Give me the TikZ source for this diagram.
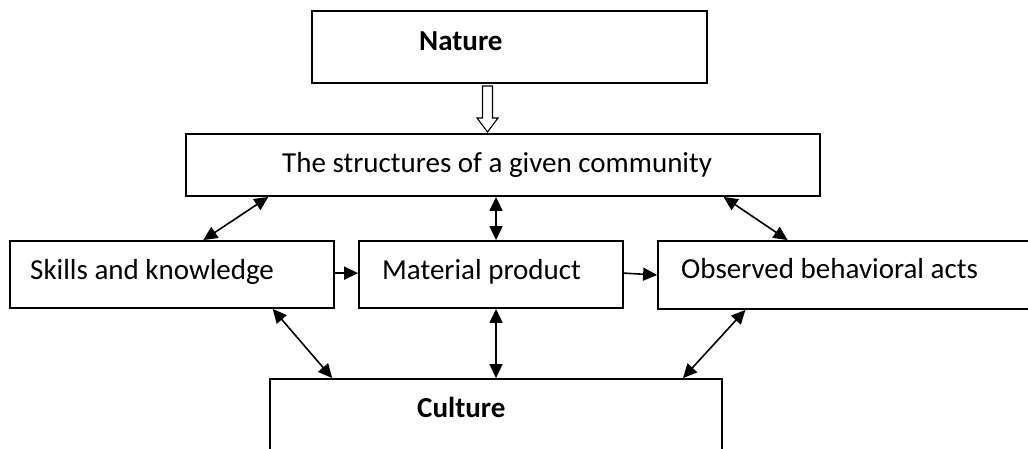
\documentclass[tikz,border=0pt]{standalone}
\usepackage{fontspec}
\setmainfont{Carlito}
\usetikzlibrary{arrows.meta,calc}
\begin{document}
\begin{tikzpicture}[x=1pt,y=-1pt,
  box/.style={draw=black,line width=1.8pt,fill=white,inner sep=0pt,rectangle},
  lbl/.style={anchor=base west,inner sep=0pt,font=\fontsize{29}{34}\selectfont},
  blbl/.style={lbl,font=\fontsize{29}{34}\selectfont\bfseries},
  dbl/.style={line width=1.6pt,{Triangle[length=14pt,width=13pt]}-{Triangle[length=14pt,width=13pt]}},
  sgl/.style={line width=1.6pt,-{Triangle[length=14pt,width=13pt]}}]
\useasboundingbox (0,0) rectangle (1028,448);
\clip (0,0) rectangle (1028,448);
\fill[white] (0,0) rectangle (1028,448);
% boxes
\node[box,minimum width=395pt,minimum height=72pt] (nature) at (509.5,47) {};
\node[box,minimum width=634pt,minimum height=62pt] (struct) at (503,165) {};
\node[box,minimum width=324pt,minimum height=67pt] (skills) at (172,274.5) {};
\node[box,minimum width=264pt,minimum height=67pt] (material) at (491,274.5) {};
\node[box,minimum width=382pt,minimum height=68pt] (observed) at (849,275) {};
\node[box,minimum width=452pt,minimum height=90pt] (culture) at (496,424) {};
% texts
\node[blbl] (tnature) at (419,50) {Nature};
\node[lbl] (tstruct) at (282,172) {The structures of a given community};
\node[lbl] (tskills) at (30,279) {Skills and knowledge};
\node[lbl] (tmaterial) at (382,279) {Material product};
\node[lbl] (tobserved) at (681,278) {Observed behavioral acts};
\node[blbl] (tculture) at (417,417) {Culture};
% hollow block arrow
\draw[line width=1.1pt,fill=white] (482.5,86) -- (492.5,86) -- (492.5,118) -- (498,118) -- (487.5,132) -- (477,118) -- (482.5,118) -- cycle;
% connectors
\draw[dbl] ($(skills.north west)!0.596!(skills.north east)$) -- ($(struct.south west)!0.131!(struct.south east)$);
\draw[dbl] ($(material.north west)!0.519!(material.north east)$) -- ($(struct.south west)!0.489!(struct.south east)$);
\draw[dbl] ($(observed.north west)!0.340!(observed.north east)$) -- ($(struct.south west)!0.847!(struct.south east)$);
\draw[sgl] ($(skills.north east)!0.48!(skills.south east)$) -- ($(material.north west)!0.48!(material.south west)$);
\draw[sgl] ($(material.north east)!0.48!(material.south east)$) -- ($(observed.north west)!0.5!(observed.south west)$);
\draw[dbl] ($(skills.south west)!0.809!(skills.south east)$) -- ($(culture.north west)!0.139!(culture.north east)$);
\draw[dbl] ($(material.south west)!0.519!(material.south east)$) -- ($(culture.north west)!0.5!(culture.north east)$);
\draw[dbl] ($(observed.south west)!0.230!(observed.south east)$) -- ($(culture.north west)!0.912!(culture.north east)$);
\end{tikzpicture}
\end{document}
